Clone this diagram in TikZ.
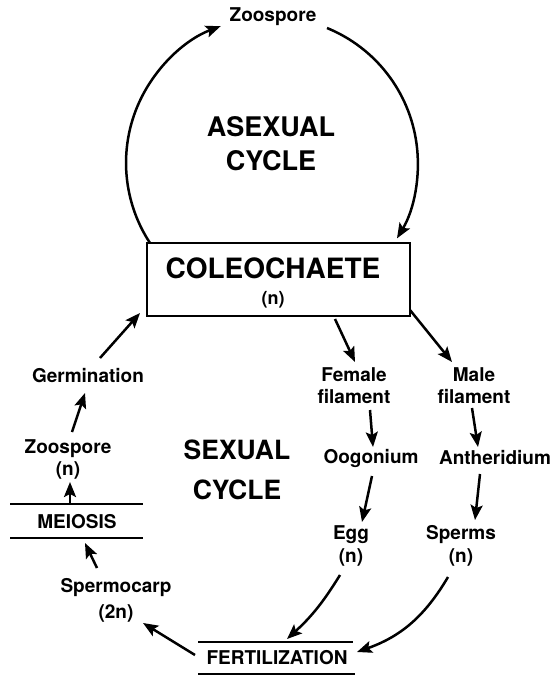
\documentclass[tikz,border=0pt]{standalone}
\usepackage{fontspec}
\setmainfont{TeX Gyre Heros}
\usetikzlibrary{arrows.meta,calc}
\begin{document}
\begin{tikzpicture}[x=1pt,y=1pt,
  lab/.style={font=\bfseries\fontsize{19}{22}\selectfont, align=center, inner sep=1pt},
  big/.style={font=\bfseries\fontsize{27}{34}\selectfont, align=center, inner sep=1pt},
  arr/.style={line width=2.5pt, -{Stealth[length=15pt,width=12pt,inset=3pt]}},
  rulel/.style={line width=1.8pt}]
\useasboundingbox (0,0) rectangle (558,-678);
% nodes
\node[lab] (zt) at (273,-17) {Zoospore};
\node[big] (asex) at (271,-144) {ASEXUAL\\CYCLE};
\node[draw, line width=2.6pt, minimum width=263pt, minimum height=73pt, inner sep=0pt] (box) at (278.5,-279.5) {};
\node[font=\bfseries\fontsize{28}{30}\selectfont, inner sep=1pt] (coleo) at (273,-268) {COLEOCHAETE};
\node[lab, font=\bfseries\fontsize{18}{22}\selectfont] (bn) at (273,-300) {(n)};
\node[lab] (fem) at (354,-386) {Female\\filament};
\node[lab] (male) at (474,-386) {Male\\filament};
\node[lab] (oog) at (371,-458) {Oogonium};
\node[lab] (anth) at (495,-458) {Antheridium};
\node[lab, font=\bfseries\fontsize{19}{23}\selectfont] (egg) at (351,-546) {Egg\\(n)};
\node[lab, font=\bfseries\fontsize{19}{23}\selectfont] (sperm) at (461,-546) {Sperms\\(n)};
\node[lab] (fert) at (277,-658) {FERTILIZATION};
\node[lab, font=\bfseries\fontsize{19}{26}\selectfont] (sporo) at (116,-600) {Spermocarp\\(2n)};
\node[lab] (mei) at (77,-522) {MEIOSIS};
\node[lab] (zoo) at (68,-459) {Zoospore\\(n)};
\node[lab] (germ) at (88,-376) {Germination};
\node[big, font=\bfseries\fontsize{26.5}{40}\selectfont] (sex) at (237,-470) {SEXUAL\\CYCLE};
% rules
\draw[rulel] (198,-642) -- (353,-642);
\draw[rulel] (198,-674) -- (355,-674);
\draw[rulel] (10,-504) -- (143,-504);
\draw[rulel] (10,-538) -- (143,-538);
% connectors
\draw[arr] ($(box)+(-128.5,36.5)$) arc[start angle=213.3, end angle=110.6, radius=146];
\draw[arr] ($(zt)+(54,-11)$) arc[start angle=67.8, end angle=-31, radius=146];
\draw[arr] ($(box)+(56.5,-39.5)$) -- ($(fem)+(1,24)$);
\draw[arr] ($(box)+(131.5,-30.5)$) -- ($(male)+(-22,24)$);
\draw[arr] ($(fem)+(16,-24)$) -- ($(oog)+(2,11)$);
\draw[arr] ($(male)+(-2,-22)$) -- ($(anth)+(-17,11)$);
\draw[arr] ($(oog)+(1,-18)$) -- ($(egg)+(11,24)$);
\draw[arr] ($(anth)+(-15,-16)$) -- ($(sperm)+(14,26)$);
\draw[arr] ($(egg)+(-11,-29)$) to[bend left=8] ($(fert)+(10,19)$);
\draw[arr] ($(sperm)+(-13,-31)$) to[bend left=20] ($(fert)+(80,6)$);
\draw[arr] ($(fert)+(-82,3)$) -- ($(sporo)+(27,-23)$);
\draw[arr] ($(sporo)+(-19,32)$) -- ($(mei)+(8,-21)$);
\draw[arr] ($(mei)+(-7,19)$) -- ($(zoo)+(2,-23)$);
\draw[arr] ($(zoo)+(4,27)$) -- ($(germ)+(-3,-17)$);
\draw[arr] ($(germ)+(12,18)$) -- ($(box)+(-138.5,-33.5)$);
\end{tikzpicture}
\end{document}
